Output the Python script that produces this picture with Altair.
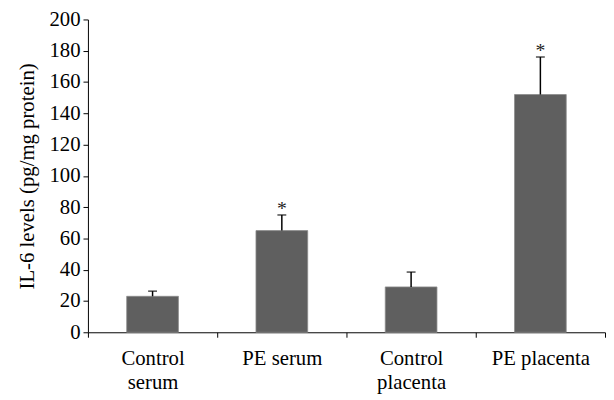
import altair as alt
import pandas as pd

categories = ["Control serum", "PE serum", "Control placenta", "PE placenta"]
values = [23, 65, 29, 152]
errors = [3.3, 10, 9.5, 24]
marks = ["", "*", "", "*"]

df = pd.DataFrame({
    "cat": categories,
    "val": values,
    "err": errors,
    "mark": marks,
})
df["top"] = df["val"] + df["err"]

FONT = "Liberation Serif"
FS = 21

x = alt.X("cat:N", sort=categories, title=None,
          scale=alt.Scale(paddingInner=0, paddingOuter=0),
          axis=alt.Axis(tickBand="extent", labelAngle=0, labelLineHeight=24,
                        labelPadding=11, tickSize=5,
                        labelExpr="indexof(datum.label,'Control')==0 ? split(datum.label,' ') : datum.label"))
yscale = alt.Scale(domain=[0, 200], nice=False)
yaxis = alt.Axis(values=list(range(0, 201, 20)), titlePadding=12,
                 tickSize=5, labelPadding=3, grid=False)
y = alt.Y("val:Q", title="IL-6 levels (pg/mg protein)", scale=yscale, axis=yaxis)
ytop = alt.Y("top:Q", title="IL-6 levels (pg/mg protein)", scale=yscale, axis=yaxis)

base = alt.Chart(df)
bars = base.mark_bar(color="#5f5f5f", stroke="#8a8a8a", strokeWidth=0.8,
                     width=alt.RelativeBandSize(0.4)).encode(x=x, y=y)
rules = base.mark_rule(color="black", strokeWidth=1.5).encode(
    x=x, y=y, y2="top:Q")
caps = base.mark_tick(color="black", thickness=1.5, size=9, orient="horizontal").encode(
    x=x, y=ytop)
stars = base.mark_text(font=FONT, fontSize=20, color="#222222", dy=4, baseline="bottom").encode(
    x=x, y=ytop, text="mark:N")

chart = alt.layer(bars, rules, caps, stars).properties(
    width=524, height=317,
    autosize=alt.AutoSizeParams(type="none"),
    padding={"left": 81, "top": 9, "right": 1, "bottom": 66},
).configure_view(stroke=None).configure_axis(
    labelFontSize=FS, labelFont=FONT, labelColor="black",
    titleFont=FONT, titleFontSize=FS, titleFontWeight="normal", titleColor="black",
    tickColor="black", domainColor="black", grid=False)

chart.save("out.html", embed_options={"renderer": "svg", "actions": False})
